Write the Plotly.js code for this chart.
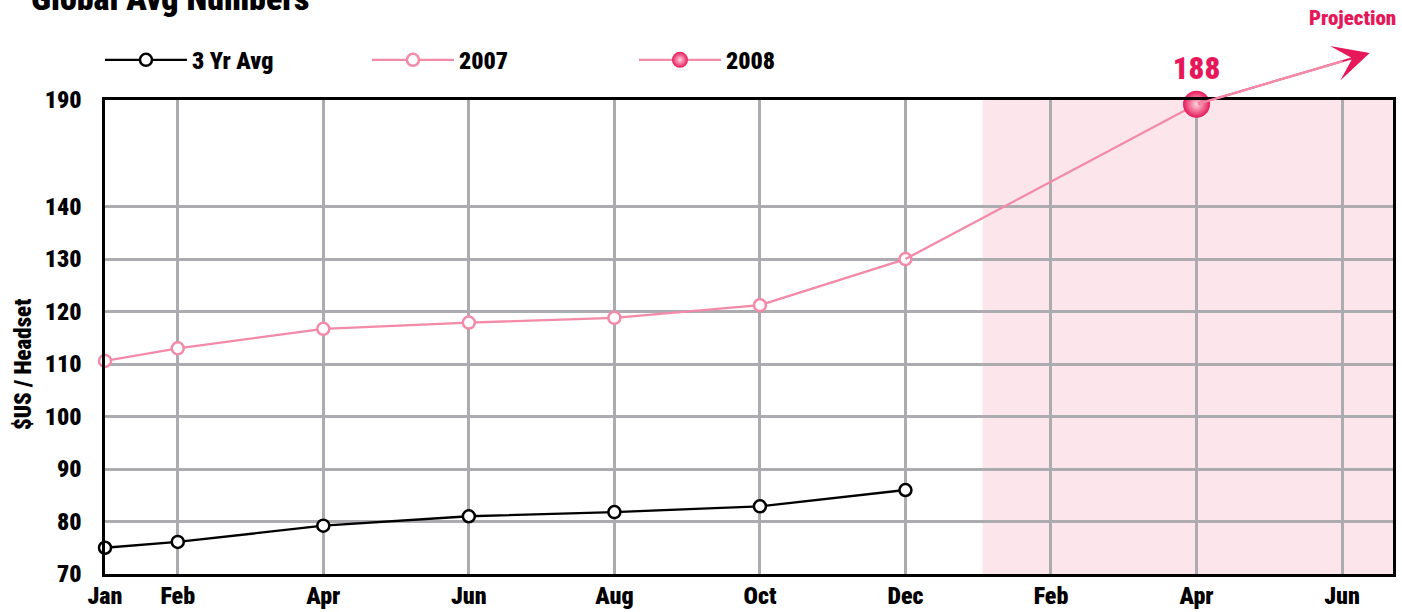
<!DOCTYPE html>
<html>
<head>
<meta charset="utf-8">
<script src="https://cdn.plot.ly/plotly-3.0.1.min.js"></script>
<style>
  html, body { margin: 0; padding: 0; background: #ffffff; }
  #chart { width: 1402px; height: 612px; }
  #chart text { font-stretch: condensed; }
</style>
</head>
<body>
<div id="chart"></div>
<script>
// ---------- data ----------
const monthPos2007 = [0, 1, 3, 5, 7, 9, 11];
const avg3yr = [75, 76.1, 79.2, 81.0, 81.8, 82.9, 86];
const price2007 = [110.6, 113.0, 116.7, 117.9, 118.8, 121.2, 130];
const projectionX = [11, 15];
const projectionY = [130, 188];
const pos2008 = [15];
const price2008 = [188];
const arrowTipX = 17.38;
const arrowTipY = 212;
const tickMonthPos = [0, 1, 3, 5, 7, 9, 11, 13, 15, 17];
const tickMonthLabels = ['Jan', 'Feb', 'Apr', 'Jun', 'Aug', 'Oct', 'Dec', 'Feb', 'Apr', 'Jun'];
const yTickValues = [70, 80, 90, 100, 110, 120, 130, 140, 190];
const projectionStart = 12.06;
const xMax = 17.7;

// ---------- broken y axis: above 140 the scale is compressed ----------
const BREAK_AT = 140;
const BREAK_SCALE = 0.406;
function toDisplay(v) { return v <= BREAK_AT ? v : BREAK_AT + (v - BREAK_AT) * BREAK_SCALE; }

const FONT = '"Roboto Condensed", Roboto, sans-serif';
const W = 900;
const PINK = '#f38aa7';
const CRIMSON = '#e6185a';

const traces = [
  {
    name: '3 Yr Avg', x: monthPos2007, y: avg3yr.map(toDisplay),
    mode: 'lines+markers',
    line: { color: '#000000', width: 2.3 },
    marker: { symbol: 'circle', size: 12, color: '#ffffff', line: { color: '#000000', width: 2.5 } },
    cliponaxis: false
  },
  {
    name: '2007', x: monthPos2007, y: price2007.map(toDisplay),
    mode: 'lines+markers',
    line: { color: PINK, width: 2.3 },
    marker: { symbol: 'circle', size: 12, color: '#ffffff', line: { color: PINK, width: 2.5 } },
    cliponaxis: false
  },
  {
    name: 'projection', x: projectionX, y: projectionY.map(toDisplay),
    mode: 'lines', showlegend: false, hoverinfo: 'skip',
    line: { color: PINK, width: 2.3 }
  },
  {
    name: '2008', x: pos2008, y: price2008.map(toDisplay),
    mode: 'lines+markers+text',
    text: price2008.map(String), textposition: 'top center',
    textfont: { family: FONT, size: 31, color: CRIMSON, weight: W },
    line: { color: PINK, width: 2.3 },
    marker: { symbol: 'circle', size: 27, color: CRIMSON,
              gradient: { type: 'radial', color: '#ffd3de' },
              line: { width: 0 } },
    cliponaxis: false
  }
];

const layout = {
  width: 1402, height: 612,
  margin: { l: 105, r: 9, t: 100, b: 38 },
  paper_bgcolor: '#ffffff', plot_bgcolor: '#ffffff',
  font: { family: FONT, size: 24, color: '#000000', weight: W },
  showlegend: true,
  legend: {
    orientation: 'h', x: -0.0039, xanchor: 'left', y: 1.084, yanchor: 'middle',
    itemwidth: 82, entrywidth: 170, entrywidthmode: 'pixels',
    font: { family: FONT, size: 24, color: '#000000', weight: W },
    bgcolor: 'rgba(0,0,0,0)', borderwidth: 0, traceorder: 'normal'
  },
  xaxis: {
    range: [0, xMax], tickmode: 'array', tickvals: tickMonthPos, ticktext: tickMonthLabels,
    showgrid: true, gridcolor: '#acacb0', gridwidth: 2.5, zeroline: false,
    showline: true, linecolor: '#000000', linewidth: 2.5, mirror: true,
    ticks: '', ticklabelstandoff: -2,
    tickfont: { family: FONT, size: 24, color: '#000000', weight: W }
  },
  yaxis: {
    range: [70, toDisplay(190)], tickmode: 'array',
    tickvals: yTickValues.map(toDisplay), ticktext: yTickValues.map(String),
    showgrid: true, gridcolor: '#acacb0', gridwidth: 2.5, zeroline: false,
    showline: true, linecolor: '#000000', linewidth: 2.5, mirror: true,
    ticks: '', ticklabelstandoff: 16,
    tickfont: { family: FONT, size: 24, color: '#000000', weight: W }
  },
  shapes: [
    { type: 'rect', xref: 'x', yref: 'paper', x0: projectionStart, x1: xMax, y0: 0, y1: 1,
      fillcolor: '#fce6ec', line: { width: 0 }, layer: 'below' }
  ],
  annotations: [
    { text: 'Global Avg Numbers', xref: 'paper', yref: 'paper', x: -0.059, y: 1.169,
      xanchor: 'left', yanchor: 'bottom', showarrow: false,
      font: { family: FONT, size: 34, color: '#000000', weight: W } },
    { text: '$US / Headset', xref: 'paper', yref: 'paper', x: -0.0637, y: 0.443,
      xanchor: 'center', yanchor: 'middle', textangle: -90, showarrow: false,
      font: { family: FONT, size: 23, color: '#000000', weight: W } },
    { text: 'Projection', xref: 'paper', yref: 'paper', x: 1.0039, y: 1.173,
      xanchor: 'right', yanchor: 'middle', showarrow: false,
      font: { family: FONT, size: 21, color: CRIMSON, weight: W } },
    { text: '', xref: 'x', yref: 'y', x: arrowTipX, y: toDisplay(arrowTipY),
      axref: 'x', ayref: 'y', ax: pos2008[0], ay: toDisplay(price2008[0]),
      showarrow: true, arrowhead: 3, arrowsize: 3, arrowwidth: 2, arrowcolor: CRIMSON },
    { text: '', xref: 'x', yref: 'y', x: arrowTipX, y: toDisplay(arrowTipY),
      axref: 'x', ayref: 'y', ax: pos2008[0], ay: toDisplay(price2008[0]),
      showarrow: true, arrowhead: 0, arrowwidth: 2.3, arrowcolor: PINK, standoff: 28 }
  ]
};

Plotly.newPlot('chart', traces, layout, { displayModeBar: false, responsive: false });
</script>
</body>
</html>
